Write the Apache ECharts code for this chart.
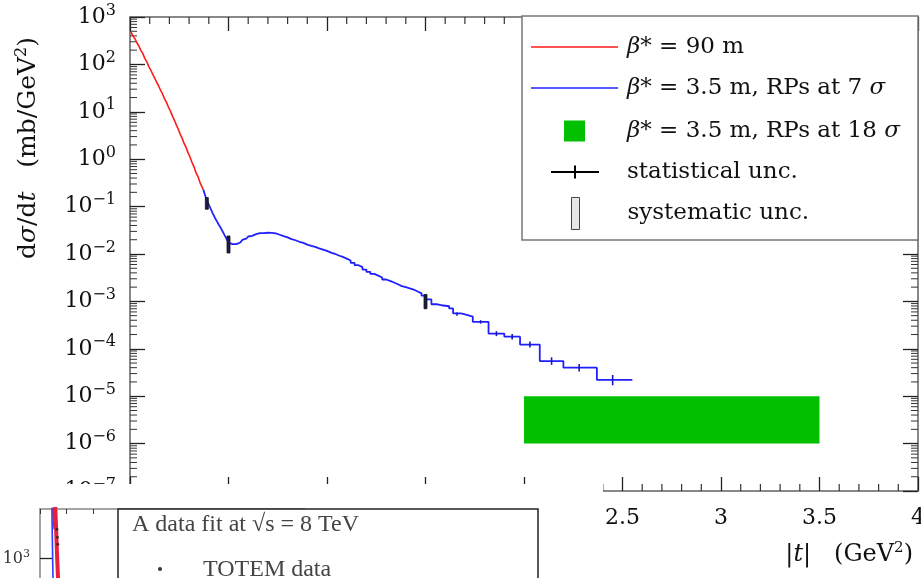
<!DOCTYPE html>
<html><head><meta charset="utf-8">
<script src="https://cdn.jsdelivr.net/npm/echarts@6/dist/echarts.min.js"></script>
<style>html,body{margin:0;padding:0;background:#fff}#c{width:921px;height:578px}</style>
</head><body><div id="c"></div>
<script>
// ---------- data ----------
const seriesNames = ['β* = 90 m', 'β* = 3.5 m, RPs at 7 σ', 'β* = 3.5 m, RPs at 18 σ', 'statistical unc.', 'systematic unc.'];
const xTickLabels = ['0', '0.5', '1', '1.5', '2', '2.5', '3', '3.5', '4'];
const xMinorSteps = [1, 2, 3, 4];          // tenths between half-unit ticks
const yDecades = [-7, -6, -5, -4, -3, -2, -1, 0, 1, 2];
const yMantissas = [2, 3, 4, 5, 6, 7, 8, 9];

// beta* = 90 m   [|t|, dsigma/dt]
const redData = [
  [0.005, 482], [0.015, 400], [0.025, 348], [0.035, 286], [0.045, 244], [0.055, 198], [0.065, 171],
  [0.075, 134], [0.085, 114], [0.095, 91], [0.105, 77], [0.115, 62], [0.125, 52], [0.135, 42],
  [0.145, 35.5], [0.155, 28.5], [0.165, 23.8], [0.175, 19], [0.185, 15.8], [0.195, 12.6], [0.205, 10.4],
  [0.215, 8.2], [0.225, 6.7], [0.235, 5.3], [0.245, 4.3], [0.255, 3.35], [0.265, 2.75], [0.275, 2.12],
  [0.285, 1.75], [0.295, 1.36], [0.305, 1.1], [0.315, 0.85], [0.325, 0.69], [0.335, 0.52], [0.345, 0.43],
  [0.355, 0.325], [0.365, 0.265], [0.372, 0.23]
];
// beta* = 3.5 m, RPs at 7 sigma (bin left edges)
const blueData = [
  [0.372, 0.23], [0.38, 0.18], [0.39, 0.135], [0.40, 0.11], [0.41, 0.089], [0.42, 0.072], [0.43, 0.059],
  [0.44, 0.05], [0.45, 0.042], [0.46, 0.036], [0.47, 0.030], [0.48, 0.025], [0.49, 0.021], [0.50, 0.0175],
  [0.51, 0.0162], [0.52, 0.0158], [0.53, 0.0161], [0.54, 0.0167], [0.55, 0.0175], [0.56, 0.019], [0.57, 0.0198],
  [0.58, 0.021], [0.59, 0.0222], [0.60, 0.0234], [0.61, 0.0241], [0.62, 0.025], [0.63, 0.0262], [0.64, 0.0268],
  [0.65, 0.0275], [0.66, 0.0282], [0.67, 0.0276], [0.68, 0.0285], [0.69, 0.0281], [0.70, 0.0278], [0.72, 0.0272],
  [0.74, 0.0255], [0.76, 0.0238], [0.78, 0.0224], [0.80, 0.0206], [0.82, 0.0195], [0.84, 0.0181], [0.86, 0.0172],
  [0.88, 0.0158], [0.90, 0.0149], [0.92, 0.0141], [0.94, 0.0132], [0.96, 0.0124], [0.98, 0.0116], [1.00, 0.0107],
  [1.02, 0.0101], [1.04, 0.0093], [1.06, 0.0087], [1.08, 0.0080], [1.10, 0.0073], [1.12, 0.0065], [1.14, 0.0058],
  [1.16, 0.0053], [1.18, 0.0047], [1.20, 0.0042], [1.22, 0.0038], [1.24, 0.0035], [1.26, 0.0032], [1.28, 0.0029],
  [1.30, 0.0027], [1.32, 0.0025], [1.34, 0.0023], [1.36, 0.0021], [1.38, 0.0020], [1.40, 0.00188], [1.42, 0.00178],
  [1.44, 0.00162], [1.46, 0.00148], [1.48, 0.00132], [1.50, 0.0011], [1.53, 0.00087], [1.56, 0.00083], [1.58, 0.00079],
  [1.62, 0.00071], [1.64, 0.00056], [1.68, 0.00052], [1.71, 0.00048], [1.74, 0.00037], [1.82, 0.00021], [1.90, 0.00018],
  [1.98, 0.000123], [2.08, 0.000055], [2.20, 0.00004], [2.37, 0.000022], [2.55, 0.000022]
];
// beta* = 3.5 m, RPs at 18 sigma band  [tMin, tMax, vMin, vMax]
const band18 = [[2.0, 3.5, 1e-6, 1e-5]];
// statistical uncertainties [t, value, low, high]
const statUnc = [
  [1.66, 0.00054, 0.00050, 0.00058], [1.78, 0.00037, 0.00034, 0.00040], [1.86, 0.00021, 0.000185, 0.000235],
  [1.94, 0.00018, 0.000158, 0.000204], [2.03, 0.000123, 0.000106, 0.000142], [2.14, 0.000055, 0.000046, 0.000066],
  [2.28, 0.00004, 0.000033, 0.000048], [2.45, 0.000022, 0.000017, 0.000028]
];
// systematic uncertainties [t, low, high]
const systUnc = [[0.39, 0.088, 0.155], [0.50, 0.0105, 0.024], [1.50, 0.0007, 0.0014]];

// inset (other figure, partly visible)
const insetRed = [[0.055, 9000], [0.058, 5000], [0.061, 2500], [0.064, 1200], [0.068, 530], [0.072, 250]];
const insetBlue = [[0.044, 9000], [0.045, 5000], [0.047, 1500], [0.049, 530], [0.050, 250]];
const insetPurple = [[0.046, 9000], [0.050, 5000], [0.054, 3200], [0.056, 2600]];
const insetTotem = [[0.064, 2600], [0.066, 2000], [0.067, 1600]];

const yMinorTicks = [];
yDecades.forEach(d => yMantissas.forEach(m => yMinorTicks.push([0, m * Math.pow(10, d)])));
const xMinorTicks = [];
for (let h = 0; h < 8; h++) xMinorSteps.forEach(s => xMinorTicks.push([h * 0.5 + s * 0.1, 1]));

// ---------- chart ----------
const SERIF = 'DejaVu Serif';
const TXT = '#111';
function powLabel(v) {
  const e = Math.round(Math.log10(v));
  return '{b|10}{s|' + (e < 0 ? '\u2212' + (-e) : e) + '}';
}
const axisLineStyle = { color: '#888', width: 2 };
const tickStyle = { color: '#222', width: 1.3 };
const legendText = pad => ({
  fontFamily: SERIF, fontSize: 23, color: TXT, lineHeight: 26, padding: [0, 0, 0, pad],
  rich: { i: { fontFamily: SERIF, fontStyle: 'italic', fontSize: 23, color: TXT } }
});
const legendFmt = name => name.replace(/β/g, '{i|β}').replace(/σ/g, '{i|σ}');
const LINE_ICON = 'path://M0,0h87v1.6h-87z';

const option = {
  animation: false,
  backgroundColor: '#fff',
  grid: [
    { left: 130, right: 3, top: 17, bottom: 87, outerBoundsMode: 'none' },
    { left: 40, top: 509, width: 265, height: 334, outerBoundsMode: 'none' }
  ],
  xAxis: [
    {
      gridIndex: 0, type: 'value', min: 0, max: 4, interval: 0.5, position: 'bottom',
      axisLine: { onZero: false, lineStyle: axisLineStyle },
      axisTick: { inside: true, length: 14, lineStyle: tickStyle },
      splitLine: { show: false },
      axisLabel: { margin: 16, fontFamily: SERIF, fontSize: 22, color: TXT,
        formatter: v => xTickLabels[Math.round(v * 2)] },
      name: '|{i|t}|   (GeV{s|2})', nameLocation: 'end', nameGap: -5,
      nameTextStyle: { align: 'right', verticalAlign: 'top', padding: [50, 0, 0, 0],
        fontFamily: SERIF, fontSize: 24, color: TXT,
        rich: { i: { fontFamily: SERIF, fontStyle: 'italic', fontSize: 24, color: TXT },
                s: { fontFamily: SERIF, fontSize: 15, color: TXT, padding: [0, 0, 12, 0] } } }
    },
    {
      gridIndex: 0, type: 'value', min: 0, max: 4, interval: 0.5, position: 'top',
      axisLine: { onZero: false, lineStyle: axisLineStyle },
      axisTick: { inside: true, length: 14, lineStyle: tickStyle },
      splitLine: { show: false }, axisLabel: { show: false }
    },
    {
      gridIndex: 1, type: 'value', min: 0, max: 1, interval: 0.1, position: 'top', z: 110,
      axisLine: { onZero: false, lineStyle: { color: '#888', width: 1.5 } },
      axisTick: { inside: true, length: 5, lineStyle: { color: '#333', width: 1 } },
      splitLine: { show: false }, axisLabel: { show: false }
    }
  ],
  yAxis: [
    {
      gridIndex: 0, type: 'log', logBase: 10, min: 1e-7, max: 1e3, interval: 1, position: 'left',
      axisLine: { onZero: false, lineStyle: axisLineStyle },
      axisTick: { inside: true, length: 15, interval: 0, lineStyle: tickStyle },
      splitLine: { show: false },
      axisLabel: { margin: 14, interval: 0, hideOverlap: false, formatter: powLabel,
        rich: { b: { fontFamily: SERIF, fontSize: 22, color: TXT },
                s: { fontFamily: SERIF, fontSize: 16, color: TXT, padding: [0, 0, 13, 0] } } },
      name: '{n|d}{i|σ}{n|/d}{i|t}{n|   (mb/GeV}{s|2}{n|)}', nameLocation: 'middle', nameGap: 88, nameRotate: 90,
      nameTextStyle: { padding: [0, 0, 0, 212], fontFamily: SERIF, fontSize: 25, color: TXT,
        rich: { n: { fontFamily: SERIF, fontSize: 25, color: TXT },
                i: { fontFamily: SERIF, fontStyle: 'italic', fontSize: 25, color: TXT },
                s: { fontFamily: SERIF, fontSize: 16, color: TXT, padding: [0, 0, 12, 0] } } }
    },
    {
      gridIndex: 0, type: 'log', logBase: 10, min: 1e-7, max: 1e3, interval: 1, position: 'right',
      axisLine: { onZero: false, lineStyle: axisLineStyle },
      axisTick: { inside: true, length: 15, interval: 0, lineStyle: tickStyle },
      splitLine: { show: false }, axisLabel: { show: false }
    },
    {
      gridIndex: 1, type: 'log', logBase: 10, min: 0.1, max: 5000, splitNumber: 5, position: 'left', z: 110,
      axisLine: { onZero: false, lineStyle: { color: '#888', width: 1.5 } },
      axisTick: { inside: true, length: 12, lineStyle: { color: '#222', width: 1.3 } },
      splitLine: { show: false },
      axisLabel: { margin: 10, showMaxLabel: false, formatter: powLabel,
        rich: { b: { fontFamily: SERIF, fontSize: 16, color: '#333' },
                s: { fontFamily: SERIF, fontSize: 11, color: '#333', padding: [0, 0, 9, 0] } } }
    }
  ],
  legend: [
    { data: [{ name: seriesNames[0], icon: LINE_ICON }, { name: seriesNames[1], icon: LINE_ICON }],
      orient: 'vertical', left: 531, top: 34, padding: 0,
      itemWidth: 87, itemHeight: 14, itemGap: 15, selectedMode: false, formatter: legendFmt, textStyle: legendText(4) },
    { data: [{ name: seriesNames[2], icon: 'rect' }], orient: 'vertical', left: 564, top: 118, padding: 0,
      itemWidth: 21, itemHeight: 21, selectedMode: false, formatter: legendFmt, textStyle: legendText(37) },
    { data: [{ name: seriesNames[3], icon: 'path://M0,5.5h48v2h-48zM23,0h2v13h-2z', itemStyle: { color: '#000' } }],
      orient: 'vertical', left: 551, top: 159, padding: 0,
      itemWidth: 48, itemHeight: 13, selectedMode: false, formatter: legendFmt, textStyle: legendText(23) },
    { data: [{ name: seriesNames[4], icon: 'path://M0,0h8v32h-8z', itemStyle: { color: '#e8e8e8', borderColor: '#444', borderWidth: 1 } }],
      orient: 'vertical', left: 571, top: 197, padding: 0,
      itemWidth: 8, itemHeight: 32, selectedMode: false, formatter: legendFmt, textStyle: legendText(43) }
  ],
  graphic: { elements: [
    { type: 'rect', z: 3, shape: { x: 522, y: 16, width: 396, height: 224 }, style: { fill: '#fff', stroke: '#777', lineWidth: 1.5 } },
    { type: 'rect', z: 100, shape: { x: 0, y: 484, width: 603, height: 94 }, style: { fill: '#fff' } },
    { type: 'rect', z: 120, shape: { x: 118, y: 509, width: 420, height: 100 }, style: { fill: '#fff', stroke: '#222', lineWidth: 1.5 } },
    { type: 'text', z: 121, x: 132, y: 525, style: { text: 'A data fit at √s = 8 TeV', fontFamily: 'Liberation Serif', fontSize: 24, fill: '#444', verticalAlign: 'middle' } },
    { type: 'circle', z: 121, shape: { cx: 160, cy: 569, r: 2 }, style: { fill: '#333' } },
    { type: 'text', z: 121, x: 203, y: 570, style: { text: 'TOTEM data', fontFamily: 'Liberation Serif', fontSize: 24, fill: '#444', verticalAlign: 'middle' } }
  ] },
  series: [
    { type: 'custom', name: 'yMinorTicks', xAxisIndex: 0, yAxisIndex: 0, z: 1, silent: true, clip: false,
      data: yMinorTicks, encode: { x: 0, y: 1 },
      renderItem: (params, api) => {
        const v = api.value(1);
        const pl = api.coord([0, v]);
        const pr = api.coord([4, v]);
        return { type: 'group', children: [
          { type: 'line', shape: { x1: pl[0], y1: pl[1], x2: pl[0] + 7, y2: pl[1] }, style: { stroke: '#333', lineWidth: 1 } },
          { type: 'line', shape: { x1: pr[0], y1: pr[1], x2: pr[0] - 7, y2: pr[1] }, style: { stroke: '#333', lineWidth: 1 } }
        ] };
      } },
    { type: 'custom', name: 'xMinorTicks', xAxisIndex: 0, yAxisIndex: 0, z: 1, silent: true, clip: false,
      data: xMinorTicks, encode: { x: 0, y: 1 },
      renderItem: (params, api) => {
        const t = api.value(0);
        const pb = api.coord([t, 1e-7]);
        const pt = api.coord([t, 1e3]);
        return { type: 'group', children: [
          { type: 'line', shape: { x1: pb[0], y1: pb[1], x2: pb[0], y2: pb[1] - 7 }, style: { stroke: '#333', lineWidth: 1.2 } },
          { type: 'line', shape: { x1: pt[0], y1: pt[1], x2: pt[0], y2: pt[1] + 7 }, style: { stroke: '#333', lineWidth: 1.2 } }
        ] };
      } },
    { type: 'line', name: seriesNames[0], xAxisIndex: 0, yAxisIndex: 0, data: redData, step: 'end',
      symbol: 'none', color: '#ff1a1a', lineStyle: { color: '#ff1a1a', width: 1.6 }, z: 2 },
    { type: 'line', name: seriesNames[1], xAxisIndex: 0, yAxisIndex: 0, data: blueData, step: 'end',
      symbol: 'none', color: '#2020ff', lineStyle: { color: '#2020ff', width: 1.8 }, z: 2 },
    { type: 'custom', name: seriesNames[2], xAxisIndex: 0, yAxisIndex: 0, data: band18,
      encode: { x: [0, 1], y: [2, 3] }, itemStyle: { color: '#00c000' },
      renderItem: (params, api) => {
        const p1 = api.coord([api.value(0), api.value(3)]);
        const p2 = api.coord([api.value(1), api.value(2)]);
        return { type: 'rect', shape: { x: p1[0], y: p1[1], width: p2[0] - p1[0], height: p2[1] - p1[1] }, style: { fill: '#00c000' } };
      } },
    { type: 'custom', name: seriesNames[3], xAxisIndex: 0, yAxisIndex: 0, data: statUnc, z: 3,
      encode: { x: 0, y: [2, 3] }, itemStyle: { color: '#000' },
      renderItem: (params, api) => {
        const a = api.coord([api.value(0), api.value(2)]);
        const b = api.coord([api.value(0), api.value(3)]);
        return { type: 'line', shape: { x1: a[0], y1: a[1], x2: b[0], y2: b[1] }, style: { stroke: '#1414c8', lineWidth: 1.6 } };
      } },
    { type: 'custom', name: seriesNames[4], xAxisIndex: 0, yAxisIndex: 0, data: systUnc, z: 3,
      encode: { x: 0, y: [1, 2] }, itemStyle: { color: '#e8e8e8' },
      renderItem: (params, api) => {
        const a = api.coord([api.value(0), api.value(2)]);
        const b = api.coord([api.value(0), api.value(1)]);
        return { type: 'rect', shape: { x: a[0] - 1.5, y: a[1], width: 3, height: b[1] - a[1] }, style: { fill: '#1a1a50', stroke: '#111', lineWidth: 0.8 } };
      } },
    // inset
    { type: 'line', name: 'inset blue', xAxisIndex: 2, yAxisIndex: 2, data: insetBlue, symbol: 'none', z: 110,
      lineStyle: { color: '#2a3cff', width: 1.6 } },
    { type: 'line', name: 'inset purple', xAxisIndex: 2, yAxisIndex: 2, data: insetPurple, symbol: 'none', z: 111,
      lineStyle: { color: '#7a3aa8', width: 3 } },
    { type: 'line', name: 'inset red', xAxisIndex: 2, yAxisIndex: 2, data: insetRed, symbol: 'none', z: 112,
      lineStyle: { color: '#e8203c', width: 4 } },
    { type: 'scatter', name: 'TOTEM data', xAxisIndex: 2, yAxisIndex: 2, data: insetTotem, symbol: 'circle', symbolSize: 3, z: 113,
      itemStyle: { color: '#222' } }
  ]
};
const chart = echarts.init(document.getElementById('c'), null, { renderer: 'canvas' });
chart.setOption(option);
</script>
</body></html>
